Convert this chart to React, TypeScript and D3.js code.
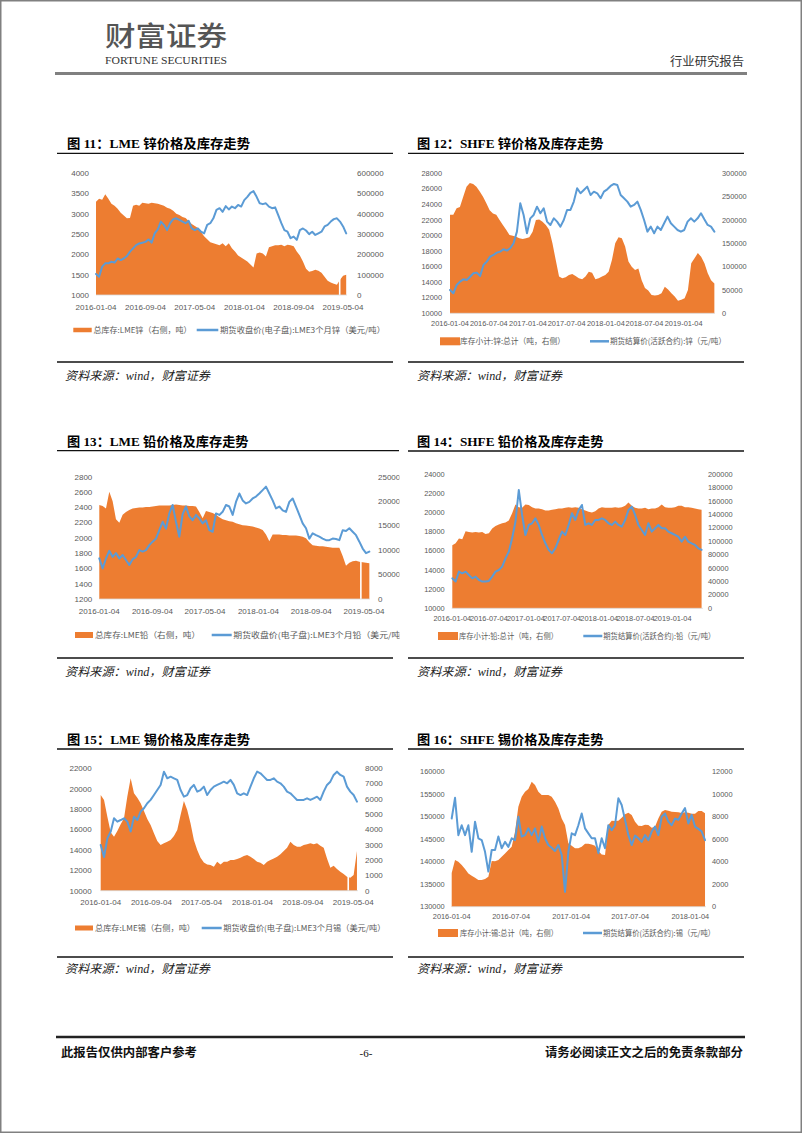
import React from "react";
import * as d3 from "d3";

const ORANGE = "#ED7D31";
const BLUE = "#5B9BD5";
const AXIS_TEXT = "#595959";
const SANS = "'Liberation Sans', Arial, sans-serif";
const CJK = "'Noto Sans CJK SC', sans-serif";
const SERIF = "'Liberation Serif', 'Noto Sans CJK SC', serif";

// ---------- shared tick labels ----------
const xTicks8m = ["2016-01-04", "2016-09-04", "2017-05-04", "2018-01-04", "2018-09-04", "2019-05-04"];
const xTicks6m = ["2016-01-04", "2016-07-04", "2017-01-04", "2017-07-04", "2018-01-04", "2018-07-04", "2019-01-04"];
const xTicksTin = ["2016-01-04", "2016-07-04", "2017-01-04", "2017-07-04", "2018-01-04"];

// ---------- Fig 11: LME zinc ----------
const lmeZincLeftTicks = [1000, 1500, 2000, 2500, 3000, 3500, 4000];
const lmeZincRightTicks = [0, 100000, 200000, 300000, 400000, 500000, 600000];
const lmeZincSpan = ["2016-01-04", "2019-05-20"];
const lmeZincStockK = [
  460, 475, 470, 497, 475, 450, 440, 425, 405, 392,
  378, 380, 440, 445, 440, 455, 452, 450, 455, 452,
  450, 445, 440, 430, 425, 415, 400, 395, 385, 380,
  365, 350, 340, 330, 310, 290, 275, 260, 255, 250,
  245, 255, 240, 255, 230, 215, 195, 185, 175, 165,
  150, 135, 205, 210, 205, 190, 235, 240, 245, 245,
  248, 240, 248, 245, 240, 215, 195, 165, 130, 115,
  118, 125, 120, 110, 90, 70, 62, 55, 50, 75,
  95, 100,
];
const lmeZincPrice = [
  1518, 1450, 1700, 1780, 1780, 1820, 1800, 1900, 1860, 1900,
  1960, 2070, 2150, 2230, 2270, 2290, 2310, 2370, 2290, 2520,
  2620, 2810, 2730, 2600, 2770, 2870, 2890, 2850, 2810, 2770,
  2830, 2640, 2600, 2640, 2560, 2520, 2730, 2770, 2890, 3100,
  3140, 3050, 3190, 3110, 3180, 3140, 3220, 3180, 3340, 3420,
  3520, 3560, 3420, 3260, 3240, 3260, 3180, 3140, 3160, 2970,
  2770, 2600, 2560, 2400, 2440, 2360, 2600, 2640, 2590, 2500,
  2560, 2480, 2520, 2560, 2690, 2730, 2810, 2870, 2890, 2810,
  2690, 2520,
];
const lmeZincGaps = ["2019-04-18"];

// ---------- Fig 12: SHFE zinc ----------
const shfeZincLeftTicks = [10000, 12000, 14000, 16000, 18000, 20000, 22000, 24000, 26000, 28000];
const shfeZincRightTicks = [0, 50000, 100000, 150000, 200000, 250000, 300000];
const shfeZincSpan = ["2016-01-04", "2019-05-28"];
const shfeZincStockK = [
  211, 211, 225, 228, 250, 271, 279, 277, 271, 261,
  250, 236, 221, 214, 211, 200, 189, 179, 168, 166,
  164, 161, 159, 161, 163, 175, 200, 201, 196, 189,
  179, 150, 114, 79, 75, 77, 82, 84, 80, 75,
  73, 79, 89, 87, 73, 75, 79, 82, 89, 114,
  150, 163, 161, 143, 111, 100, 93, 96, 71, 54,
  49, 39, 38, 39, 43, 57, 51, 43, 36, 27,
  29, 32, 50, 107, 118, 129, 121, 107, 86, 71,
  64,
];
const shfeZincPrice = [
  13000, 12570, 13640, 14070, 14370, 14290, 14710, 15140, 15230, 14800,
  16210, 16640, 17290, 17500, 17800, 17930, 18230, 18060, 18360, 19000,
  20500, 24140, 22640, 20290, 22210, 22640, 23710, 22860, 23500, 21790,
  21360, 22210, 21790, 21140, 22000, 23290, 23290, 24360, 26070, 25430,
  25860, 26290, 25210, 25640, 25430, 24790, 25640, 25940, 26370, 26630,
  26500, 25210, 24790, 24360, 23710, 23930, 24360, 23290, 22000, 20500,
  21140, 20290, 21140, 20710, 21570, 22430, 21570, 21140, 20710, 20500,
  20710, 21790, 22210, 21790, 22210, 22860, 22090, 21360, 21140, 20500,
];

// ---------- Fig 13: LME lead ----------
const lmeLeadLeftTicks = [1200, 1400, 1600, 1800, 2000, 2200, 2400, 2600, 2800];
const lmeLeadRightTicks = [0, 50000, 100000, 150000, 200000, 250000];
const lmeLeadSpan = ["2016-01-04", "2019-05-29"];
const lmeLeadStockK = [
  192, 190, 185, 219, 200, 163, 156, 172, 178, 182,
  185, 186, 187, 187, 188, 188, 189, 190, 191, 191,
  191, 191, 192, 193, 192, 191, 191, 190, 190, 189,
  178, 165, 180, 178, 176, 172, 167, 163, 161, 159,
  158, 155, 153, 151, 150, 149, 148, 146, 144, 141,
  132, 118, 132, 132, 132, 131, 131, 130, 130, 130,
  129, 127, 124, 116, 110, 109, 108, 108, 107, 106,
  105, 105, 105, 88, 68, 74, 77, 78, 76, 75,
  74, 73,
];
const lmeLeadPrice = [
  1732, 1600, 1730, 1830, 1750, 1800, 1730, 1775, 1710, 1645,
  1720, 1750, 1840, 1820, 1840, 1905, 1950, 1990, 2100, 2210,
  2120, 2320, 2430, 2210, 2015, 2310, 2410, 2280, 2230, 2300,
  2255, 2190, 2230, 2100, 2080, 2320, 2300, 2340, 2430, 2410,
  2300, 2470, 2580, 2490, 2450, 2470, 2515, 2540, 2580, 2625,
  2670, 2580, 2490, 2385, 2410, 2360, 2340, 2470, 2515, 2410,
  2300, 2190, 2125, 1990, 2060, 2035, 2015, 1990, 1970, 1970,
  1990, 1985, 1970, 2100, 2090, 2125, 2080, 2035, 1950, 1860,
  1800, 1820,
];
const lmeLeadGaps = ["2019-04-20"];

// ---------- Fig 14: SHFE lead ----------
const shfeLeadLeftTicks = [10000, 12000, 14000, 16000, 18000, 20000, 22000, 24000];
const shfeLeadRightTicks = [0, 20000, 40000, 60000, 80000, 100000, 120000, 140000, 160000, 180000, 200000];
const shfeLeadSpan = ["2016-01-04", "2019-05-28"];
const shfeLeadStockK = [
  94, 97, 104, 103, 115, 114, 113, 114, 113, 114,
  111, 112, 119, 123, 125, 127, 128, 131, 142, 155,
  151, 150, 155, 154, 151, 149, 149, 148, 146, 146,
  147, 148, 149, 149, 150, 151, 150, 151, 150, 148,
  146, 144, 143, 145, 149, 151, 150, 150, 150, 151,
  150, 151, 153, 158, 153, 150, 149, 149, 150, 148,
  149, 149, 151, 155, 151, 150, 150, 151, 153, 153,
  151, 151, 150, 149, 148, 147,
];
const shfeLeadPrice = [
  13130, 12800, 13830, 13650, 13830, 13480, 13130, 13310, 12960, 12790,
  12790, 12860, 13310, 13830, 14000, 14350, 15220, 15920, 17310, 19060,
  22360, 19750, 17660, 18710, 18880, 19400, 18710, 17660, 16790, 16100,
  15750, 16270, 17140, 18010, 17660, 18710, 19930, 19230, 20270, 20800,
  18710, 18880, 18710, 19230, 19230, 19400, 19230, 18880, 18710, 19060,
  18710, 18530, 19230, 20270, 20620, 19750, 18710, 18180, 17660, 18880,
  18010, 18360, 18710, 18360, 18360, 18010, 17840, 17660, 17480, 16970,
  17480, 16970, 16790, 16620, 16270, 16100,
];

// ---------- Fig 15: LME tin ----------
const lmeTinLeftTicks = [10000, 12000, 14000, 16000, 18000, 20000, 22000];
const lmeTinRightTicks = [0, 1000, 2000, 3000, 4000, 5000, 6000, 7000, 8000];
const lmeTinSpan = ["2016-01-04", "2019-05-22"];
const lmeTinStock = [
  6250, 5930, 4840, 3815, 3530, 3900, 4340, 4730, 6150, 7350,
  6370, 6080, 5710, 5210, 4690, 4290, 3750, 3250, 2990, 3100,
  3200, 3310, 3575, 3970, 4950, 5860, 5280, 4400, 3310, 2660,
  2160, 1850, 1720, 1680, 1570, 1900, 1720, 1900, 1900, 2000,
  2000, 2070, 2160, 2270, 2330, 2220, 2070, 1900, 1830, 1680,
  1900, 2000, 2110, 2220, 2380, 2590, 2810, 3200, 2990, 2880,
  2880, 2990, 3030, 3100, 3030, 3100, 2940, 2810, 2110, 1500,
  1630, 1420, 1240, 1090, 915, 850, 1020, 2600,
];
const lmeTinPrice = [
  14480, 13300, 15130, 15790, 17100, 16770, 16930, 17100, 16770, 15800,
  17260, 16930, 17750, 18080, 18570, 18900, 19380, 19870, 20370, 21670,
  21020, 21180, 21020, 20860, 19870, 19220, 19380, 20040, 20370, 19710,
  19870, 20200, 19380, 19870, 20200, 20370, 20530, 20690, 20530, 20860,
  20370, 19550, 19380, 19550, 19380, 20200, 21020, 21670, 21510, 21180,
  20860, 20860, 21020, 20690, 20530, 20200, 19710, 19550, 19220, 18900,
  18900, 18900, 19060, 18900, 19060, 19220, 18900, 19710, 20370, 20690,
  21350, 21670, 21350, 21180, 20200, 19710, 19380, 18730,
];
const lmeTinGaps = ["2019-04-10"];

// ---------- Fig 16: SHFE tin ----------
const shfeTinLeftTicks = [130000, 135000, 140000, 145000, 150000, 155000, 160000];
const shfeTinRightTicks = [0, 2000, 4000, 6000, 8000, 10000, 12000];
const shfeTinSpan = ["2016-01-04", "2018-02-18"];
const shfeTinStock = [
  3000, 4150, 4000, 3700, 3350, 2960, 2760, 2580, 2370, 2370,
  2460, 2670, 4060, 4030, 4150, 4440, 4740, 5040, 5330, 6670,
  8890, 9780, 10220, 10460, 11110, 10810, 10220, 9930, 9930, 9930,
  9780, 9330, 8740, 7850, 7260, 5630, 5420, 5190, 5190, 5330,
  5600, 5600, 5540, 5420, 4950, 4650, 4600, 7260, 7640, 7610,
  7640, 7910, 8210, 8360, 8150, 7560, 7200, 7170, 7290, 7260,
  7020, 7110, 7850, 8440, 8590, 8530, 8440, 8410, 8390, 8330,
  8390, 8360, 8270, 8270, 8500, 8500, 8300,
];
const shfeTinPrice = [
  149600, 154200, 145900, 148100, 145900, 148100, 142200, 148900, 145200, 144800,
  142200, 137800, 142600, 142600, 145600, 143000, 144400, 143300, 145200, 144800,
  150000, 145600, 145900, 147400, 145900, 147400, 144400, 147800, 145200, 143700,
  143100, 142400, 143700, 141500, 133300, 142200, 146300, 145900, 148100, 150700,
  147400, 146300, 145200, 145200, 141900, 145200, 143000, 148100, 147000, 148100,
  154100, 152600, 149300, 145900, 143700, 145800, 145200, 144400, 145900, 144800,
  146700, 147800, 145900, 150000, 150700, 148900, 148100, 149600, 149300, 150700,
  151900, 148500, 150400, 147800, 147300, 146700, 144800,
];

type Legend = {
  y: number;
  sw: [number, number, number];
  stockText: string;
  stockX: number;
  stockW: number;
  lineSw: [number, number];
  priceText: string;
  priceX: number;
  priceW: number;
};

type Cfg = {
  id: string;
  title: string;
  titleX: number;
  titleY: number;
  titleW: number;
  ruleY: number;
  ruleX: [number, number];
  left: number;
  right: number;
  top: number;
  bottom: number;
  domain: [string, string];
  span: string[];
  leftTicks: number[];
  rightTicks: number[];
  xTicks: string[];
  stock: number[];
  stockScale: number;
  price: number[];
  gaps: string[];
  font: number;
  leftOff: number;
  rightOff: number;
  xOff: number;
  legend: Legend;
  clipRight?: number;
};

const charts: Cfg[] = [
  {
    id: "c11", title: "图 11：LME 锌价格及库存走势", titleX: 67, titleY: 147.5, titleW: 183,
    ruleY: 153.3, ruleX: [57, 393],
    left: 96, right: 347, top: 173.3, bottom: 295, domain: ["2016-01-04", "2019-05-24"],
    span: lmeZincSpan, leftTicks: lmeZincLeftTicks, rightTicks: lmeZincRightTicks, xTicks: xTicks8m,
    stock: lmeZincStockK, stockScale: 1000, price: lmeZincPrice, gaps: lmeZincGaps,
    font: 8, leftOff: 7, rightOff: 10, xOff: 12,
    legend: { y: 330, sw: [73.3, 91.7, 4.5], stockText: "总库存:LME锌（右侧，吨）", stockX: 93.5, stockW: 98,
      lineSw: [196.7, 218.3], priceText: "期货收盘价(电子盘):LME3个月锌（美元/吨）", priceX: 220, priceW: 165 },
  },
  {
    id: "c12", title: "图 12：SHFE 锌价格及库存走势", titleX: 417, titleY: 147.5, titleW: 186.5,
    ruleY: 153.3, ruleX: [408, 744],
    left: 450, right: 715, top: 173.3, bottom: 313.3, domain: ["2016-01-04", "2019-05-31"],
    span: shfeZincSpan, leftTicks: shfeZincLeftTicks, rightTicks: shfeZincRightTicks, xTicks: xTicks6m,
    stock: shfeZincStockK, stockScale: 1000, price: shfeZincPrice, gaps: [],
    font: 7.4, leftOff: 8, rightOff: 7, xOff: 10,
    legend: { y: 341.3, sw: [440, 460, 8], stockText: "库存小计:锌:总计（吨，右侧）", stockX: 460, stockW: 105,
      lineSw: [590, 609], priceText: "期货结算价(活跃合约):锌（元/吨）", priceX: 610, priceW: 116 },
  },
  {
    id: "c13", title: "图 13：LME 铅价格及库存走势", titleX: 67, titleY: 445.5, titleW: 181.5,
    ruleY: 450.7, ruleX: [57, 399],
    left: 99.3, right: 370, top: 476.7, bottom: 599, domain: ["2016-01-04", "2019-06-01"],
    span: lmeLeadSpan, leftTicks: lmeLeadLeftTicks, rightTicks: lmeLeadRightTicks, xTicks: xTicks8m,
    stock: lmeLeadStockK, stockScale: 1000, price: lmeLeadPrice, gaps: lmeLeadGaps,
    font: 8, leftOff: 7, rightOff: 8, xOff: 12.6,
    legend: { y: 635, sw: [75, 93, 6], stockText: "总库存:LME铅（右侧，吨）", stockX: 95, stockW: 105,
      lineSw: [211.7, 231.7], priceText: "期货收盘价(电子盘):LME3个月铅（美元/吨）", priceX: 233.3, priceW: 176 },
    clipRight: 399.5,
  },
  {
    id: "c14", title: "图 14：SHFE 铅价格及库存走势", titleX: 417, titleY: 445.5, titleW: 186.5,
    ruleY: 451, ruleX: [408, 744],
    left: 451.7, right: 703, top: 474.3, bottom: 608.3, domain: ["2016-01-01", "2019-06-04"],
    span: shfeLeadSpan, leftTicks: shfeLeadLeftTicks, rightTicks: shfeLeadRightTicks, xTicks: xTicks6m,
    stock: shfeLeadStockK, stockScale: 1000, price: shfeLeadPrice, gaps: [],
    font: 7.4, leftOff: 7, rightOff: 5, xOff: 10,
    legend: { y: 636, sw: [438, 458, 8], stockText: "库存小计:铅:总计（吨，右侧）", stockX: 459, stockW: 99,
      lineSw: [583.3, 602.3], priceText: "期货结算价(活跃合约):铅（元/吨）", priceX: 603.3, priceW: 112 },
  },
  {
    id: "c15", title: "图 15：LME 锡价格及库存走势", titleX: 67, titleY: 744, titleW: 183,
    ruleY: 749, ruleX: [57, 393],
    left: 100.7, right: 358, top: 768.3, bottom: 890.7, domain: ["2016-01-04", "2019-05-27"],
    span: lmeTinSpan, leftTicks: lmeTinLeftTicks, rightTicks: lmeTinRightTicks, xTicks: xTicks8m,
    stock: lmeTinStock, stockScale: 1, price: lmeTinPrice, gaps: lmeTinGaps,
    font: 8, leftOff: 9, rightOff: 7, xOff: 11,
    legend: { y: 928, sw: [75, 93, 5], stockText: "总库存:LME锡（右侧，吨）", stockX: 95, stockW: 100,
      lineSw: [201.7, 221.7], priceText: "期货收盘价(电子盘):LME3个月锡（美元/吨）", priceX: 223.3, priceW: 162 },
  },
  {
    id: "c16", title: "图 16：SHFE 锡价格及库存走势", titleX: 417, titleY: 744, titleW: 186.5,
    ruleY: 749, ruleX: [408, 744],
    left: 451.7, right: 706, top: 771.7, bottom: 906.7, domain: ["2016-01-04", "2018-02-21"],
    span: shfeTinSpan, leftTicks: shfeTinLeftTicks, rightTicks: shfeTinRightTicks, xTicks: xTicksTin,
    stock: shfeTinStock, stockScale: 1, price: shfeTinPrice, gaps: [],
    font: 7.4, leftOff: 7, rightOff: 6, xOff: 10,
    legend: { y: 933, sw: [438, 458, 8], stockText: "库存小计:锡:总计（吨，右侧）", stockX: 460, stockW: 98,
      lineSw: [583, 602], priceText: "期货结算价(活跃合约):锡（元/吨）", priceX: 603, priceW: 112 },
  },
];

const sourceRows = [
  { ruleY: 362, textY: 380 },
  { ruleY: 658, textY: 676 },
  { ruleY: 957, textY: 973 },
];
const sourceText = "资料来源：wind，财富证券";

type P = { d: Date; v: number };
const toDate = (s: string) => new Date(s + "T00:00:00Z");

function DualChart({ c }: { c: Cfg }) {
  const x = d3.scaleTime().domain([toDate(c.domain[0]), toDate(c.domain[1])]).range([c.left, c.right]);
  const yL = d3
    .scaleLinear()
    .domain([c.leftTicks[0], c.leftTicks[c.leftTicks.length - 1]])
    .range([c.bottom, c.top]);
  const yR = d3
    .scaleLinear()
    .domain([c.rightTicks[0], c.rightTicks[c.rightTicks.length - 1]])
    .range([c.bottom, c.top]);
  const t0 = toDate(c.span[0]).getTime();
  const t1 = toDate(c.span[1]).getTime();
  const spread = (vals: number[]): P[] =>
    vals.map((v, i) => ({ d: new Date(t0 + ((t1 - t0) * i) / (vals.length - 1)), v }));
  const stock = spread(c.stock.map((v) => v * c.stockScale));
  const price = spread(c.price);
  const area = d3
    .area<P>()
    .x((p) => x(p.d))
    .y0(c.bottom)
    .y1((p) => yR(p.v));
  const line = d3
    .line<P>()
    .x((p) => x(p.d))
    .y((p) => yL(p.v))
    .curve(d3.curveLinear);
  const lg = c.legend;
  const clipId = `clip-${c.id}`;
  return (
    <g>
      {c.clipRight !== undefined && (
        <defs>
          <clipPath id={clipId}>
            <rect x={0} y={0} width={c.clipRight} height={1133} />
          </clipPath>
        </defs>
      )}
      <text
        x={c.titleX}
        y={c.titleY}
        fontFamily={SERIF}
        fontWeight={700}
        fontSize={13}
        fill="#000"
        textLength={c.titleW}
        lengthAdjust="spacingAndGlyphs"
      >
        {c.title}
      </text>
      <line x1={c.ruleX[0]} x2={c.ruleX[1]} y1={c.ruleY} y2={c.ruleY} stroke="#111" strokeWidth={1.3} />
      <g clipPath={c.clipRight !== undefined ? `url(#${clipId})` : undefined}>
        <path d={area(stock) ?? ""} fill={ORANGE} />
        {c.gaps.map((g) => (
          <rect key={g} x={x(toDate(g)) - 0.8} y={c.top} width={1.6} height={c.bottom - c.top} fill="#fff" />
        ))}
        <line x1={c.left} x2={c.right} y1={c.bottom} y2={c.bottom} stroke="#D9D9D9" strokeWidth={0.8} />
        <path
          d={line(price) ?? ""}
          fill="none"
          stroke={BLUE}
          strokeWidth={2}
          strokeLinejoin="round"
          strokeLinecap="round"
        />
        {c.leftTicks.map((t) => (
          <text
            key={"l" + t}
            x={c.left - c.leftOff}
            y={yL(t)}
            dy="0.35em"
            textAnchor="end"
            fontFamily={SANS}
            fontSize={c.font}
            fill={AXIS_TEXT}
          >
            {t}
          </text>
        ))}
        {c.rightTicks.map((t) => (
          <text
            key={"r" + t}
            x={c.right + c.rightOff}
            y={yR(t)}
            dy="0.35em"
            textAnchor="start"
            fontFamily={SANS}
            fontSize={c.font}
            fill={AXIS_TEXT}
          >
            {t}
          </text>
        ))}
        {c.xTicks.map((t) => (
          <text
            key={"x" + t}
            x={x(toDate(t))}
            y={c.bottom + c.xOff}
            dy="0.35em"
            textAnchor="middle"
            fontFamily={SANS}
            fontSize={c.font}
            fill={AXIS_TEXT}
          >
            {t}
          </text>
        ))}
        <rect x={lg.sw[0]} y={lg.y - lg.sw[2] / 2} width={lg.sw[1] - lg.sw[0]} height={lg.sw[2]} fill={ORANGE} />
        <text
          x={lg.stockX}
          y={lg.y}
          dy="0.36em"
          fontFamily={CJK}
          fontSize={8}
          fill={AXIS_TEXT}
          textLength={lg.stockW}
          lengthAdjust="spacingAndGlyphs"
        >
          {lg.stockText}
        </text>
        <line x1={lg.lineSw[0]} x2={lg.lineSw[1]} y1={lg.y} y2={lg.y} stroke={BLUE} strokeWidth={2.5} />
        <text
          x={lg.priceX}
          y={lg.y}
          dy="0.36em"
          fontFamily={CJK}
          fontSize={8}
          fill={AXIS_TEXT}
          textLength={lg.priceW}
          lengthAdjust="spacingAndGlyphs"
        >
          {lg.priceText}
        </text>
      </g>
    </g>
  );
}

export default function App() {
  return (
    <svg
      width={802}
      height={1133}
      viewBox="0 0 802 1133"
      style={{ position: "absolute", left: 0, top: 0, display: "block" }}
    >
      <rect x={0} y={0} width={802} height={1133} fill="#fff" />
      {/* header */}
      <text
        x={105}
        y={46}
        fontFamily={CJK}
        fontWeight={500}
        fontSize={27}
        fill="#555"
        textLength={122}
        lengthAdjust="spacingAndGlyphs"
      >
        财富证券
      </text>
      <text
        x={105}
        y={64}
        fontFamily={SERIF}
        fontSize={10.5}
        fill="#333"
        textLength={122}
        lengthAdjust="spacingAndGlyphs"
      >
        FORTUNE SECURITIES
      </text>
      <text
        x={670}
        y={66}
        fontFamily={CJK}
        fontSize={12}
        fill="#333"
        textLength={74}
        lengthAdjust="spacingAndGlyphs"
      >
        行业研究报告
      </text>
      <line x1={55} x2={747} y1={73.5} y2={73.5} stroke="#808080" strokeWidth={3} />

      {charts.map((c) => (
        <DualChart key={c.id} c={c} />
      ))}

      {sourceRows.map((r, i) => (
        <g key={"src" + i}>
          <line x1={57} x2={393} y1={r.ruleY} y2={r.ruleY} stroke="#111" strokeWidth={1.3} />
          <line x1={408} x2={744} y1={r.ruleY} y2={r.ruleY} stroke="#111" strokeWidth={1.3} />
          <text
            x={65}
            y={r.textY}
            fontFamily={SERIF}
            fontStyle="italic"
            fontSize={12}
            fill="#222"
            textLength={145}
            lengthAdjust="spacingAndGlyphs"
          >
            {sourceText}
          </text>
          <text
            x={417}
            y={r.textY}
            fontFamily={SERIF}
            fontStyle="italic"
            fontSize={12}
            fill="#222"
            textLength={145}
            lengthAdjust="spacingAndGlyphs"
          >
            {sourceText}
          </text>
        </g>
      ))}

      {/* footer */}
      <line x1={56} x2={745} y1={1037} y2={1037} stroke="#222" strokeWidth={2.5} />
      <text
        x={61}
        y={1057}
        fontFamily={SERIF}
        fontWeight={700}
        fontSize={12.5}
        fill="#111"
        textLength={136}
        lengthAdjust="spacingAndGlyphs"
      >
        此报告仅供内部客户参考
      </text>
      <text x={366} y={1057} textAnchor="middle" fontFamily={SERIF} fontSize={11} fill="#111">
        -6-
      </text>
      <text
        x={545}
        y={1057}
        fontFamily={SERIF}
        fontWeight={700}
        fontSize={12.5}
        fill="#111"
        textLength={198}
        lengthAdjust="spacingAndGlyphs"
      >
        请务必阅读正文之后的免责条款部分
      </text>

      <rect x={0.75} y={0.75} width={800.5} height={1131.5} fill="none" stroke="#808080" strokeWidth={1.5} />
    </svg>
  );
}
